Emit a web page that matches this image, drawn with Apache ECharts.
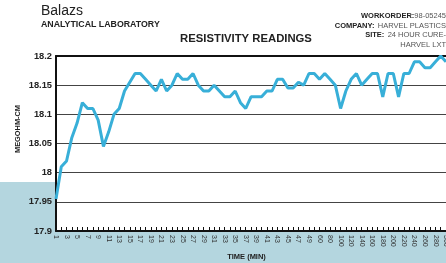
<!DOCTYPE html>
<html>
<head>
<meta charset="utf-8">
<script src="https://cdn.jsdelivr.net/npm/echarts@6/dist/echarts.min.js"></script>
<style>
  html, body { margin: 0; padding: 0; background: #fff; }
  #chart { width: 446px; height: 263px; }
</style>
</head>
<body>
<div id="chart"></div>
<script>
// time (min) categories
const minutes = [
  '1', '2', '3', '4', '5', '6', '7', '8', '9', '10',
  '11', '12', '13', '14', '15', '16', '17', '18', '19', '20',
  '21', '22', '23', '24', '25', '26', '27', '28', '29', '30',
  '31', '32', '33', '34', '35', '36', '37', '38', '39', '40',
  '41', '42', '43', '44', '45', '46', '47', '48', '49', '50',
  '60', '70', '80', '90', '100', '110', '120', '130', '140', '150',
  '160', '170', '180', '190', '200', '210', '220', '230', '240', '250',
  '260', '270', '280', '290', '300'
];
// resistivity readings (megohm-cm)
const readings = [
  17.955, 18.01, 18.02, 18.06, 18.085, 18.12, 18.11, 18.11, 18.09, 18.045,
  18.07, 18.10, 18.11, 18.14, 18.155, 18.17, 18.17, 18.16, 18.15, 18.14,
  18.16, 18.14, 18.15, 18.17, 18.16, 18.16, 18.17, 18.15, 18.14, 18.14,
  18.15, 18.14, 18.13, 18.13, 18.14, 18.12, 18.11, 18.13, 18.13, 18.13,
  18.14, 18.14, 18.16, 18.16, 18.145, 18.145, 18.155, 18.15, 18.17, 18.17,
  18.16, 18.17, 18.16, 18.15, 18.11, 18.14, 18.16, 18.17, 18.15, 18.16,
  18.17, 18.17, 18.13, 18.17, 18.17, 18.13, 18.17, 18.17, 18.19, 18.19,
  18.18, 18.18, 18.19, 18.2, 18.19
];
const yMin = 17.9;
const yMax = 18.2;
const yStep = 0.05;

const chart = echarts.init(document.getElementById('chart'));
const font = 'Liberation Sans, Arial, sans-serif';

chart.setOption({
  animation: false,
  textStyle: { fontFamily: font },
  grid: {
    left: 56,
    right: 0,
    top: 56,
    bottom: 32,
    outerBoundsMode: 'none',
    containLabel: false,
    show: true,
    backgroundColor: '#fff',
    borderWidth: 0,
  },
  graphic: [
    {
      type: 'rect',
      z: -10,
      silent: true,
      shape: { x: 0, y: 182, width: 446, height: 81 },
      style: { fill: '#b4d6df' },
    },
    {
      type: 'text',
      left: 41,
      top: 4,
      style: { text: 'Balazs', font: '14px ' + font, fill: '#222' },
    },
    {
      type: 'text',
      left: 41,
      top: 20,
      style: { text: 'ANALYTICAL LABORATORY', font: 'bold 8.8px ' + font, fill: '#222' },
    },
    {
      type: 'text',
      x: 246,
      y: 39,
      style: {
        text: 'RESISTIVITY READINGS',
        font: 'bold 11.3px ' + font,
        fill: '#222',
        align: 'center',
        verticalAlign: 'middle',
      },
    },
    {
      type: 'text',
      x: 446,
      y: 11.5,
      style: {
        text: '{b|WORKORDER:}{v|98-05245}\n{b|COMPANY:} {v|HARVEL PLASTICS}\n{b|SITE:} {v|24 HOUR CURE-}\n{v|HARVEL LXT}',
        align: 'right',
        lineHeight: 9.5,
        rich: {
          b: { font: 'bold 7.5px ' + font, fill: '#222', lineHeight: 9.5 },
          v: { font: '7.5px ' + font, fill: '#555', lineHeight: 9.5 },
        },
      },
    },
    {
      type: 'text',
      x: 18,
      y: 129,
      rotation: Math.PI / 2,
      style: {
        text: 'MEGOHM-CM',
        font: 'bold 7.4px ' + font,
        fill: '#222',
        align: 'center',
        verticalAlign: 'middle',
      },
    },
    {
      type: 'text',
      x: 246.5,
      y: 257,
      style: {
        text: 'TIME (MIN)',
        font: 'bold 7.5px ' + font,
        fill: '#222',
        align: 'center',
        verticalAlign: 'middle',
      },
    },
  ],
  xAxis: [
    {
      type: 'category',
      data: minutes,
      boundaryGap: false,
      axisLine: { show: true, lineStyle: { color: '#111', width: 2 } },
      axisTick: {
        show: true,
        inside: true,
        length: 4,
        interval: 0,
        lineStyle: { color: '#111', width: 1 },
      },
      axisLabel: {
        interval: 1,
        rotate: -90,
        margin: 4,
        fontSize: 7,
        color: '#333',
        fontFamily: font,
      },
      splitLine: { show: false },
    },
    {
      type: 'category',
      data: minutes,
      position: 'top',
      boundaryGap: false,
      axisLine: { show: true, lineStyle: { color: '#111', width: 2 } },
      axisTick: { show: false },
      axisLabel: { show: false },
      splitLine: { show: false },
    },
  ],
  yAxis: {
    type: 'value',
    min: yMin,
    max: yMax,
    interval: yStep,
    axisLine: { show: true, lineStyle: { color: '#111', width: 2 } },
    axisTick: { show: false },
    axisLabel: {
      margin: 4,
      fontSize: 9.3,
      fontWeight: 'bold',
      color: '#222',
      fontFamily: font,
      formatter: v => String(parseFloat(v.toFixed(2))),
    },
    splitLine: { show: true, lineStyle: { color: '#444', width: 1 } },
  },
  series: [
    {
      type: 'line',
      data: readings,
      showSymbol: false,
      symbol: 'none',
      clip: false,
      lineStyle: { color: '#38afd8', width: 3 },
      z: 5,
    },
  ],
});
</script>
</body>
</html>
